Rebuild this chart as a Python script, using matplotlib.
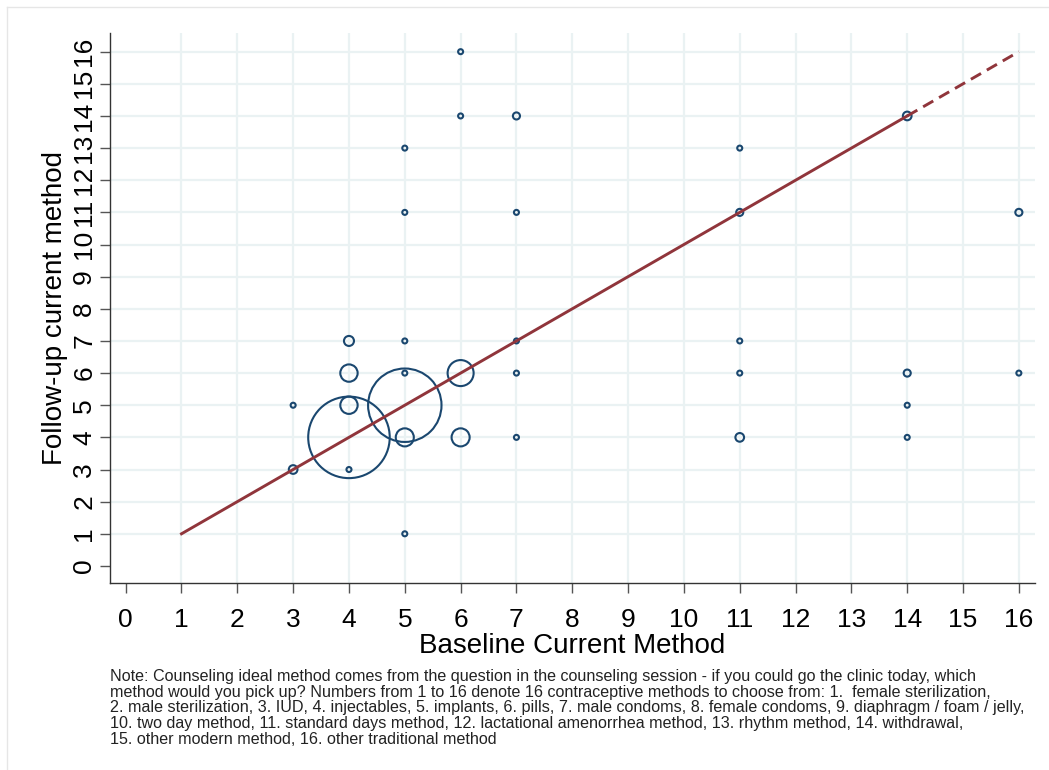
import matplotlib
matplotlib.use("Agg")
import matplotlib.pyplot as plt
from matplotlib.lines import Line2D

plt.rcParams['font.family'] = ['Liberation Sans', 'DejaVu Sans']

# baseline method, follow-up method, number of respondents
baseline = [3, 3, 4, 4, 4, 4, 4, 5, 5, 5, 5, 5, 5, 5, 6, 6, 6, 6,
            7, 7, 7, 7, 7, 11, 11, 11, 11, 11, 14, 14, 14, 14, 16, 16]
followup = [3, 5, 3, 4, 5, 6, 7, 1, 4, 5, 6, 7, 11, 13, 4, 6, 14, 16,
            4, 6, 7, 11, 14, 4, 6, 7, 11, 13, 4, 5, 6, 14, 6, 11]
counts = [3, 1, 1, 265, 12, 12, 4, 1, 13, 215, 1, 1, 1, 1, 13, 27, 1, 1,
          1, 1, 1, 1, 2, 3, 1, 1, 2, 1, 1, 1, 2, 3, 1, 2]

# 45-degree reference line: solid over the observed range, dashed beyond it
diag_solid = [1, 14]
diag_dashed = [14, 16]

ticks = list(range(0, 17))
grid_vals = list(range(1, 17))

note = ("Note: Counseling ideal method comes from the question in the counseling session - if you could go the clinic today, which\n"
        "method would you pick up? Numbers from 1 to 16 denote 16 contraceptive methods to choose from: 1.  female sterilization,\n"
        "2. male sterilization, 3. IUD, 4. injectables, 5. implants, 6. pills, 7. male condoms, 8. female condoms, 9. diaphragm / foam / jelly,\n"
        "10. two day method, 11. standard days method, 12. lactational amenorrhea method, 13. rhythm method, 14. withdrawal,\n"
        "15. other modern method, 16. other traditional method")

navy = '#1a476f'
maroon = '#90353b'
grid_c = '#eaf2f3'

fig = plt.figure(figsize=(10.49, 7.70), dpi=100)
ax = fig.add_axes([0.1049, 0.2429, 0.8818, 0.7142])

for v in grid_vals:
    ax.axvline(v, color=grid_c, lw=1.6, zorder=0)
    ax.axhline(v, color=grid_c, lw=1.6, zorder=0)

ax.scatter(baseline, followup, s=[13 * c for c in counts], facecolors='none',
           edgecolors=navy, linewidths=1.5, zorder=2)

ax.plot(diag_solid, diag_solid, color=maroon, lw=2.1, zorder=3)
ax.plot(diag_dashed, diag_dashed, color=maroon, lw=2.1, ls=(0, (4, 2.3)), zorder=3)

ax.set_xlim(-0.28, 16.29)
ax.set_ylim(-0.53, 16.58)
ax.set_xticks(ticks)
ax.set_yticks(ticks)
ax.set_xticklabels([str(t) for t in ticks], fontsize=19)
ax.set_yticklabels([str(t) for t in ticks], fontsize=19, rotation=90, va='center')
ax.tick_params(axis='x', length=7, width=1, color='#555555', pad=11)
ax.tick_params(axis='y', length=7, width=1, color='#555555', pad=3)

for side in ['top', 'right']:
    ax.spines[side].set_visible(False)
for side in ['left', 'bottom']:
    ax.spines[side].set_color('#333333')
    ax.spines[side].set_linewidth(1.0)

ax.set_xlabel('Baseline Current Method', fontsize=20, labelpad=1)
ax.set_ylabel('Follow-up current method', fontsize=20, labelpad=3)

fig.text(110 / 1049, 1 - 669 / 770, note, fontsize=11.6, va='top', ha='left',
         color='#222222', linespacing=1.06)

# thin frame around the graph region
fig.add_artist(Line2D([7 / 1049, 1], [1 - 7 / 770, 1 - 7 / 770], color='#e6e6e6', lw=1))
fig.add_artist(Line2D([7 / 1049, 7 / 1049], [0, 1 - 7 / 770], color='#e6e6e6', lw=1))

fig.savefig('out.png', dpi=100, facecolor='white')
